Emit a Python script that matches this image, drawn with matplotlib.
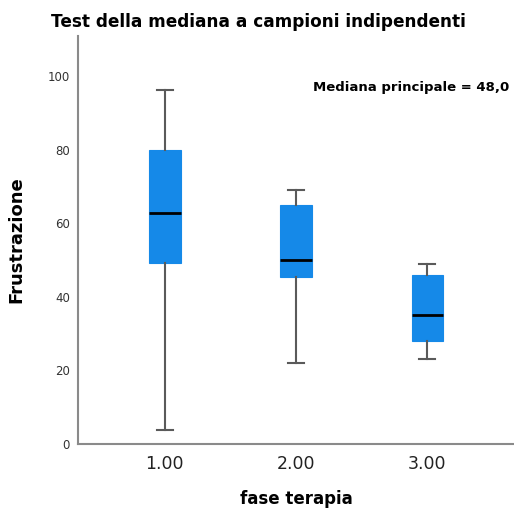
import matplotlib
matplotlib.use("Agg")
import matplotlib.pyplot as plt

# values
groups = ["1.00", "2.00", "3.00"]
whisker_low = [3.8, 22.0, 23.0]
q1 = [49.3, 45.3, 28.0]
median = [62.7, 50.1, 35.1]
q3 = [80.0, 65.1, 46.0]
whisker_high = [96.2, 69.2, 49.0]
grand_median = 48.0

BOX_COLOR = "#1589e8"
LINE_COLOR = "#5a5a5a"

stats = []
for name, lo, a, m, b, hi in zip(groups, whisker_low, q1, median, q3, whisker_high):
    stats.append(dict(label=name, whislo=lo, q1=a, med=m, q3=b, whishi=hi, fliers=[]))

fig = plt.figure(figsize=(5.14, 5.11), dpi=100)
ax = fig.add_axes([0.152, 0.131, 0.848, 0.799])

ax.bxp(stats, positions=[1, 2, 3], widths=0.24, patch_artist=True,
       showfliers=False,
       boxprops=dict(facecolor=BOX_COLOR, edgecolor=BOX_COLOR, linewidth=0.8),
       medianprops=dict(color="black", linewidth=2),
       whiskerprops=dict(color=LINE_COLOR, linewidth=1.5),
       capprops=dict(color=LINE_COLOR, linewidth=1.5),
       capwidths=0.12)

ax.set_xlim(0.34, 3.66)
ax.set_ylim(0, 111)
ax.set_yticks([0, 20, 40, 60, 80, 100])
ax.tick_params(axis="y", length=0, labelsize=8.5, labelcolor="#333333", pad=6)
ax.tick_params(axis="x", length=0, labelsize=12.5, labelcolor="#222222", pad=8)

for side in ("top", "right"):
    ax.spines[side].set_visible(False)
for side in ("left", "bottom"):
    ax.spines[side].set_color("#8a8a8a")
    ax.spines[side].set_linewidth(1.5)

ax.set_ylabel("Frustrazione", fontsize=13, fontweight="bold", labelpad=16)
ax.set_xlabel("fase terapia", fontsize=12, fontweight="bold", labelpad=12)

fig.text(0.502, 0.957, "Test della mediana a campioni indipendenti",
         ha="center", va="center", fontsize=12.2, fontweight="bold")
ax.text(0.99, 0.873, "Mediana principale = %s" % f"{grand_median:.1f}".replace(".", ","),
        transform=ax.transAxes, ha="right", va="center",
        fontsize=9.5, fontweight="bold")

fig.savefig("out.png", dpi=100)
